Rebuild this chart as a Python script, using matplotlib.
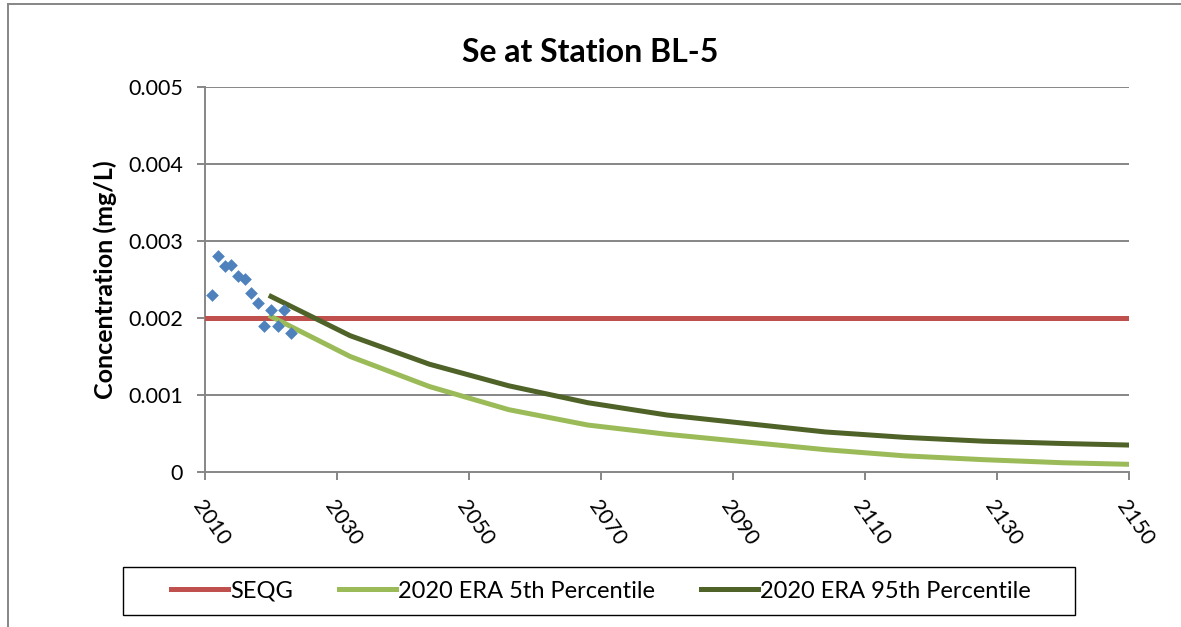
import matplotlib.pyplot as plt
from matplotlib.lines import Line2D
from matplotlib.patches import Rectangle

plt.rcParams['font.family'] = ['Lato', 'DejaVu Sans']

# Measured Se concentrations (mg/L)
obs_years = [2011, 2012, 2013, 2014, 2015, 2016, 2017, 2018, 2019, 2020, 2021, 2022, 2023]
obs_se = [0.00230, 0.00281, 0.00267, 0.00269, 0.00254, 0.00251, 0.00233, 0.00220,
          0.00190, 0.00210, 0.00190, 0.00210, 0.00180]

# SEQG guideline
seqg_years = [2010, 2150]
seqg = [0.002, 0.002]

# 2020 ERA projections
era_years = [2020, 2032, 2044, 2056, 2068, 2080, 2092, 2104, 2116, 2128, 2140, 2150]
era_p5 = [0.00202, 0.00150, 0.00111, 0.00081, 0.00061, 0.00049, 0.00039, 0.00029,
          0.00021, 0.00016, 0.00012, 0.00010]
era_p95 = [0.00228, 0.00177, 0.00140, 0.00112, 0.00090, 0.00074, 0.00063, 0.00052,
           0.00045, 0.00040, 0.00037, 0.00035]

x_ticks = list(range(2010, 2151, 20))
y_ticks = [0, 0.001, 0.002, 0.003, 0.004, 0.005]
y_labels = ['0', '0.001', '0.002', '0.003', '0.004', '0.005']

grey = '#868686'
W, H = 1181, 627

fig = plt.figure(figsize=(W / 100, H / 100), dpi=100)
ax = fig.add_axes([0.1736, 0.2472, 0.7824, 0.6140])

for y in y_ticks[1:]:
    ax.axhline(y, color=grey, lw=1.4, zorder=1)

ax.plot(seqg_years, seqg, color='#C0504D', lw=3.6, label='SEQG', zorder=3)
ax.plot(era_years, era_p5, color='#9BBB59', lw=3.6, label='2020 ERA 5th Percentile', zorder=3)
ax.plot(era_years, era_p95, color='#4F6228', lw=3.6, label='2020 ERA 95th Percentile', zorder=3)
ax.scatter(obs_years, obs_se, marker='D', s=42, color='#4F81BD', lw=0, zorder=4)

ax.set_xlim(2010, 2150)
ax.set_ylim(0, 0.005)
ax.set_xticks(x_ticks)
ax.set_xticklabels([str(x) for x in x_ticks], rotation=-55, ha='left', va='top',
                   rotation_mode='anchor', fontsize=15.5)
ax.set_yticks(y_ticks)
ax.set_yticklabels(y_labels, fontsize=15.5)
ax.tick_params(axis='both', direction='out', length=6, width=1.4, color=grey)
ax.tick_params(axis='y', pad=10)
ax.tick_params(axis='x', pad=12)

for side in ['top', 'right']:
    ax.spines[side].set_visible(False)
for side in ['left', 'bottom']:
    ax.spines[side].set_color(grey)
    ax.spines[side].set_linewidth(1.4)

ax.set_ylabel('Concentration (mg/L)', fontsize=18, fontweight='bold', labelpad=8)
fig.text(0.5, 0.917, 'Se at Station BL-5', ha='center', va='center',
         fontsize=23, fontweight='bold')

# legend entries without frame; box drawn separately for wider side padding
fig.legend(loc='center', bbox_to_anchor=(601 / W, 1 - 591 / H), ncol=3, fontsize=17,
           frameon=False, handlelength=2.4, handletextpad=0.1, columnspacing=1.95)
fig.add_artist(Rectangle((123 / W, 1 - 615 / H), (1075 - 123) / W, 48 / H,
                         transform=fig.transFigure, fill=False, edgecolor='black', lw=1.0))

# outer chart border (top and left edges)
fig.add_artist(Line2D([8 / W, 1.0], [1 - 4 / H, 1 - 4 / H], color=grey, lw=1.4))
fig.add_artist(Line2D([8 / W, 8 / W], [0, 1 - 4 / H], color=grey, lw=1.4))

fig.savefig('out.png', dpi=100)
